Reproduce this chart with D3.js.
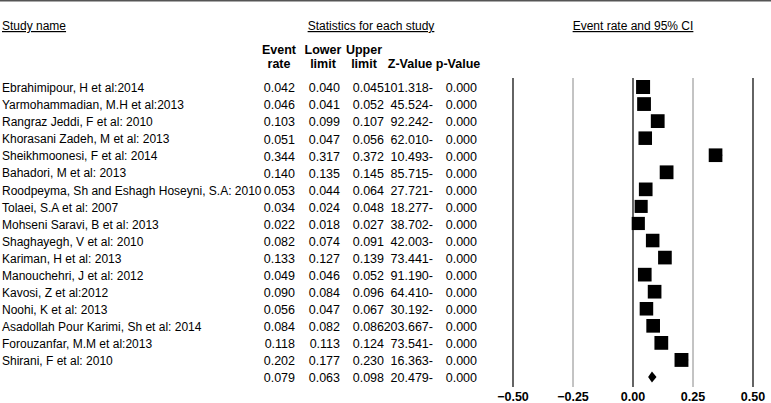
<!DOCTYPE html>
<html>
<head>
<meta charset="utf-8">
<script src="https://cdn.jsdelivr.net/npm/d3@7"></script>
<style>
  body { margin: 0; background: #fff; }
  svg { font-family: "Liberation Sans", Arial, sans-serif; font-size: 12px; }
</style>
</head>
<body>
<div id="chart"></div>
<script>
// study rows
const studies = [
  "Ebrahimipour, H et al:2014",
  "Yarmohammadian, M.H et al:2013",
  "Rangraz Jeddi, F et al: 2010",
  "Khorasani Zadeh, M et al: 2013",
  "Sheikhmoonesi, F et al: 2014",
  "Bahadori, M et al: 2013",
  "Roodpeyma, Sh and Eshagh Hoseyni, S.A: 2010",
  "Tolaei, S.A et al: 2007",
  "Mohseni Saravi, B et al: 2013",
  "Shaghayegh, V et al: 2010",
  "Kariman, H et al: 2013",
  "Manouchehri, J et al: 2012",
  "Kavosi, Z et al:2012",
  "Noohi, K et al: 2013",
  "Asadollah Pour Karimi, Sh et al: 2014",
  "Forouzanfar, M.M et al:2013",
  "Shirani, F et al: 2010"
];
const eventRate = [0.042, 0.046, 0.103, 0.051, 0.344, 0.140, 0.053, 0.034, 0.022, 0.082, 0.133, 0.049, 0.090, 0.056, 0.084, 0.118, 0.202];
const lowerLimit = [0.040, 0.041, 0.099, 0.047, 0.317, 0.135, 0.044, 0.024, 0.018, 0.074, 0.127, 0.046, 0.084, 0.047, 0.082, 0.113, 0.177];
const upperLimit = [0.045, 0.052, 0.107, 0.056, 0.372, 0.145, 0.064, 0.048, 0.027, 0.091, 0.139, 0.052, 0.096, 0.067, 0.086, 0.124, 0.230];
const zValue = ["101.318-", "45.524-", "92.242-", "62.010-", "10.493-", "85.715-", "27.721-", "18.277-", "38.702-", "42.003-", "73.441-", "91.190-", "64.410-", "30.192-", "203.667-", "73.541-", "16.363-"];
const pValue = ["0.000", "0.000", "0.000", "0.000", "0.000", "0.000", "0.000", "0.000", "0.000", "0.000", "0.000", "0.000", "0.000", "0.000", "0.000", "0.000", "0.000"];
// relative weights (%)
const weight = [6.2, 6.0, 6.0, 5.8, 5.9, 6.0, 5.9, 5.4, 5.5, 5.8, 5.9, 5.9, 5.9, 5.8, 5.9, 6.0, 6.1];
// pooled estimate
const summary = { rate: 0.079, lower: 0.063, upper: 0.098, z: "20.479-", p: "0.000" };
const xTicks = [-0.50, -0.25, 0.00, 0.25, 0.50];

const width = 771, height = 403;

const svg = d3.select("#chart").append("svg")
  .attr("width", width)
  .attr("height", height);

// top border
svg.append("line")
  .attr("x1", 0).attr("x2", width)
  .attr("y1", 0.75).attr("y2", 0.75)
  .style("stroke", "#555")
  .style("stroke-width", 1.5);

const rows = d3.range(studies.length + 1);
const y = d3.scalePoint().domain(rows).range([88, 378]);

const x = d3.scaleLinear().domain([-0.5, 0.5]).range([513, 753]);

// headers
svg.append("text").attr("x", 2).attr("y", 30)
  .style("text-decoration", "underline").text("Study name");
svg.append("text").attr("x", 371).attr("y", 30).attr("text-anchor", "middle")
  .style("text-decoration", "underline").text("Statistics for each study");
svg.append("text").attr("x", x(0)).attr("y", 30).attr("text-anchor", "middle")
  .style("text-decoration", "underline").text("Event rate and 95% CI");

const cols = [
  { head: ["Event", "rate"], cx: 279, right: 295, vals: eventRate.map(d => d.toFixed(3)), sum: summary.rate.toFixed(3) },
  { head: ["Lower", "limit"], cx: 323, right: 340, vals: lowerLimit.map(d => d.toFixed(3)), sum: summary.lower.toFixed(3) },
  { head: ["Upper", "limit"], cx: 364, right: 384, vals: upperLimit.map(d => d.toFixed(3)), sum: summary.upper.toFixed(3) },
  { head: ["", "Z-Value"], cx: 410, right: 433, vals: zValue, sum: summary.z },
  { head: ["", "p-Value"], cx: 458, right: 477, vals: pValue, sum: summary.p }
];

cols.forEach(c => {
  c.head.forEach((h, i) => {
    svg.append("text")
      .attr("x", c.cx).attr("y", 54 + i * 14)
      .attr("text-anchor", "middle")
      .style("font-weight", "bold")
      .style("font-size", "12.5px")
      .text(h);
  });
  svg.append("g").selectAll("text")
    .data(c.vals.concat([c.sum]))
    .enter().append("text")
    .attr("x", c.right)
    .attr("y", (d, i) => y(i))
    .attr("dy", "0.35em")
    .attr("text-anchor", "end")
    .style("font-size", "12.5px")
    .text(d => d);
});

svg.append("g").selectAll("text")
  .data(studies)
  .enter().append("text")
  .attr("x", 2)
  .attr("y", (d, i) => y(i))
  .attr("dy", "0.35em")
  .text(d => d);

// reference lines
svg.append("g").selectAll("line")
  .data(xTicks)
  .enter().append("line")
  .attr("x1", d => x(d)).attr("x2", d => x(d))
  .attr("y1", 78).attr("y2", 387)
  .style("stroke", d => Math.abs(d) === 0.25 ? "#888" : "#222")
  .style("stroke-width", d => Math.abs(d) === 0.25 ? 1 : 1.4);

// tick labels
svg.append("g").selectAll("text")
  .data(xTicks)
  .enter().append("text")
  .attr("x", d => x(d))
  .attr("y", 397)
  .attr("dy", "0.35em")
  .attr("text-anchor", "middle")
  .style("font-weight", "bold")
  .style("font-size", "12.5px")
  .text(d => d3.format(".2f")(d));

// confidence intervals and squares
const size = d3.scaleSqrt().domain([0, d3.max(weight)]).range([0, 14]);

const marks = svg.append("g").selectAll("g")
  .data(studies.map((s, i) => ({ i, rate: eventRate[i], lo: lowerLimit[i], hi: upperLimit[i], w: weight[i] })))
  .enter().append("g");

marks.append("line")
  .attr("x1", d => x(d.lo)).attr("x2", d => x(d.hi))
  .attr("y1", d => y(d.i) - 1).attr("y2", d => y(d.i) - 1)
  .style("stroke", "#000");

marks.append("rect")
  .attr("x", d => x(d.rate) - size(d.w) / 2)
  .attr("y", d => y(d.i) - 1 - size(d.w) / 2)
  .attr("width", d => size(d.w))
  .attr("height", d => size(d.w))
  .style("fill", "#000");

// summary diamond
const sy = y(studies.length) - 1;
svg.append("path")
  .attr("d", `M${x(summary.lower)},${sy} L${x(summary.rate)},${sy - 5.5} L${x(summary.upper)},${sy} L${x(summary.rate)},${sy + 5.5} Z`)
  .style("fill", "#000");
</script>
</body>
</html>
